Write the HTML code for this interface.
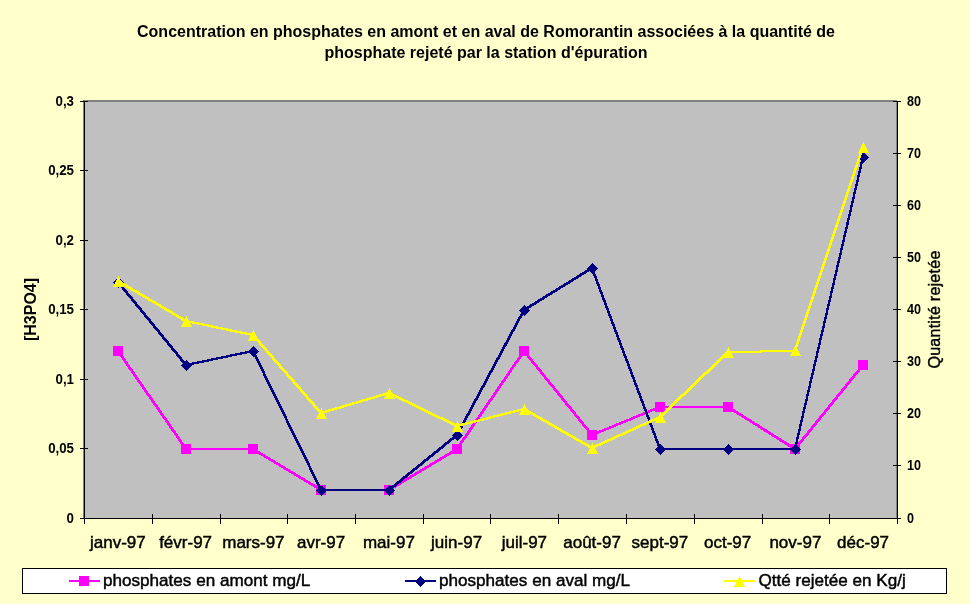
<!DOCTYPE html>
<html lang="fr"><head><meta charset="utf-8"><title>Concentration en phosphates</title>
<style>
html,body{margin:0;padding:0;background:#FFFFCC;}
body{width:970px;height:604px;overflow:hidden;}
svg{display:block;font-family:"Liberation Sans",Arial,sans-serif;fill:#000;}
.t{font-weight:bold;font-size:16px;text-anchor:middle;}
.yl{font-weight:bold;font-size:14.3px;text-anchor:end;}
.yr{font-weight:bold;font-size:14.3px;text-anchor:start;}
.xl{font-size:17px;text-anchor:middle;stroke:#000;stroke-width:0.45px;}
.lg{font-size:17.1px;stroke:#000;stroke-width:0.45px;}
</style></head><body>
<svg width="970" height="604" viewBox="0 0 970 604">
<rect x="0" y="0" width="970" height="604" fill="#FFFFCC"/>
<text class="t" x="486" y="36.5">Concentration en phosphates en amont et en aval de Romorantin associées à la quantité de</text>
<text class="t" x="486" y="57.5">phosphate rejeté par la station d'épuration</text>
<g shape-rendering="crispEdges">
<rect x="84" y="101" width="814" height="418" fill="#C0C0C0"/>
<rect x="83" y="100" width="814" height="2" fill="#808080"/>
<rect x="83" y="100" width="1" height="418" fill="#808080"/>
<rect x="896" y="100" width="1" height="418" fill="#808080"/>
<rect x="84" y="101" width="1" height="418" fill="#000"/>
<rect x="897" y="101" width="1" height="418" fill="#000"/>
<rect x="84" y="518" width="814" height="1" fill="#000"/>
<rect x="80" y="518" width="8" height="1" fill="#000"/>
<rect x="80" y="448" width="8" height="1" fill="#000"/>
<rect x="80" y="379" width="8" height="1" fill="#000"/>
<rect x="80" y="309" width="8" height="1" fill="#000"/>
<rect x="80" y="240" width="8" height="1" fill="#000"/>
<rect x="80" y="170" width="8" height="1" fill="#000"/>
<rect x="80" y="101" width="8" height="1" fill="#000"/>
<rect x="893" y="518" width="8" height="1" fill="#000"/>
<rect x="893" y="465" width="8" height="1" fill="#000"/>
<rect x="893" y="413" width="8" height="1" fill="#000"/>
<rect x="893" y="361" width="8" height="1" fill="#000"/>
<rect x="893" y="309" width="8" height="1" fill="#000"/>
<rect x="893" y="257" width="8" height="1" fill="#000"/>
<rect x="893" y="205" width="8" height="1" fill="#000"/>
<rect x="893" y="153" width="8" height="1" fill="#000"/>
<rect x="893" y="101" width="8" height="1" fill="#000"/>
<rect x="84" y="514" width="1" height="10" fill="#000"/>
<rect x="152" y="514" width="1" height="10" fill="#000"/>
<rect x="220" y="514" width="1" height="10" fill="#000"/>
<rect x="287" y="514" width="1" height="10" fill="#000"/>
<rect x="355" y="514" width="1" height="10" fill="#000"/>
<rect x="423" y="514" width="1" height="10" fill="#000"/>
<rect x="490" y="514" width="1" height="10" fill="#000"/>
<rect x="558" y="514" width="1" height="10" fill="#000"/>
<rect x="626" y="514" width="1" height="10" fill="#000"/>
<rect x="694" y="514" width="1" height="10" fill="#000"/>
<rect x="762" y="514" width="1" height="10" fill="#000"/>
<rect x="829" y="514" width="1" height="10" fill="#000"/>
<rect x="897" y="514" width="1" height="10" fill="#000"/>
<path fill="#FF00FF" d="M117,350 119,350 187,448 187,450 185,450 117,352ZM185,448 254,448 254,450 185,450ZM252,448 254,448 322,489 322,491 320,491 252,450ZM320,489 390,489 390,491 320,491ZM388,489 456,448 458,448 458,450 390,491 388,491ZM456,448 523,350 525,350 525,352 458,450 456,450ZM523,350 525,350 593,434 593,436 591,436 523,352ZM591,434 659,406 661,406 661,408 593,436 591,436ZM659,406 729,406 729,408 659,408ZM727,406 729,406 796,448 796,450 794,450 727,408ZM794,448 862,364 864,364 864,366 796,450 794,450Z"/>
<rect x="113" y="346" width="10" height="10" fill="#FF00FF"/>
<rect x="181" y="444" width="10" height="10" fill="#FF00FF"/>
<rect x="248" y="444" width="10" height="10" fill="#FF00FF"/>
<rect x="316" y="485" width="10" height="10" fill="#FF00FF"/>
<rect x="384" y="485" width="10" height="10" fill="#FF00FF"/>
<rect x="452" y="444" width="10" height="10" fill="#FF00FF"/>
<rect x="519" y="346" width="10" height="10" fill="#FF00FF"/>
<rect x="587" y="430" width="10" height="10" fill="#FF00FF"/>
<rect x="655" y="402" width="10" height="10" fill="#FF00FF"/>
<rect x="723" y="402" width="10" height="10" fill="#FF00FF"/>
<rect x="790" y="444" width="10" height="10" fill="#FF00FF"/>
<rect x="858" y="360" width="10" height="10" fill="#FF00FF"/>
<path fill="#000080" d="M117,281 119,281 187,364 187,366 185,366 117,283ZM185,364 252,350 254,350 254,352 187,366 185,366ZM252,350 254,350 322,489 322,491 320,491 252,352ZM320,489 390,489 390,491 320,491ZM388,489 456,434 458,434 458,436 390,491 388,491ZM456,434 523,309 525,309 525,311 458,436 456,436ZM523,309 591,267 593,267 593,269 525,311 523,311ZM591,267 593,267 661,448 661,450 659,450 591,269ZM659,448 729,448 729,450 659,450ZM727,448 796,448 796,450 727,450ZM794,448 862,156 864,156 864,158 796,450 794,450Z"/>
<polygon points="118.5,276.9 124.1,282.5 118.5,288.1 112.9,282.5" fill="#000080"/>
<polygon points="186.5,359.9 192.1,365.5 186.5,371.1 180.9,365.5" fill="#000080"/>
<polygon points="253.5,345.9 259.1,351.5 253.5,357.1 247.9,351.5" fill="#000080"/>
<polygon points="321.5,484.9 327.1,490.5 321.5,496.1 315.9,490.5" fill="#000080"/>
<polygon points="389.5,484.9 395.1,490.5 389.5,496.1 383.9,490.5" fill="#000080"/>
<polygon points="457.5,429.9 463.1,435.5 457.5,441.1 451.9,435.5" fill="#000080"/>
<polygon points="524.5,304.9 530.1,310.5 524.5,316.1 518.9,310.5" fill="#000080"/>
<polygon points="592.5,262.9 598.1,268.5 592.5,274.1 586.9,268.5" fill="#000080"/>
<polygon points="660.5,443.9 666.1,449.5 660.5,455.1 654.9,449.5" fill="#000080"/>
<polygon points="728.5,443.9 734.1,449.5 728.5,455.1 722.9,449.5" fill="#000080"/>
<polygon points="795.5,443.9 801.1,449.5 795.5,455.1 789.9,449.5" fill="#000080"/>
<polygon points="863.5,151.9 869.1,157.5 863.5,163.1 857.9,157.5" fill="#000080"/>
<path fill="#FFFF00" d="M117,280 119,280 187,320 187,322 185,322 117,282ZM185,320 187,320 254,334 254,336 252,336 185,322ZM252,334 254,334 322,412 322,414 320,414 252,336ZM320,412 388,392 390,392 390,394 322,414 320,414ZM388,392 390,392 458,425 458,427 456,427 388,394ZM456,425 523,408 525,408 525,410 458,427 456,427ZM523,408 525,408 593,447 593,449 591,449 523,410ZM591,447 659,416 661,416 661,418 593,449 591,449ZM659,416 727,351 729,351 729,353 661,418 659,418ZM727,351 794,350 796,350 796,352 729,353 727,353ZM794,350 862,146 864,146 864,148 796,352 794,352Z"/>
<polygon points="118.5,276.0 124.0,287.0 113.0,287.0" fill="#FFFF00"/>
<polygon points="186.5,316.0 192.0,327.0 181.0,327.0" fill="#FFFF00"/>
<polygon points="253.5,330.0 259.0,341.0 248.0,341.0" fill="#FFFF00"/>
<polygon points="321.5,408.0 327.0,419.0 316.0,419.0" fill="#FFFF00"/>
<polygon points="389.5,388.0 395.0,399.0 384.0,399.0" fill="#FFFF00"/>
<polygon points="457.5,421.0 463.0,432.0 452.0,432.0" fill="#FFFF00"/>
<polygon points="524.5,404.0 530.0,415.0 519.0,415.0" fill="#FFFF00"/>
<polygon points="592.5,443.0 598.0,454.0 587.0,454.0" fill="#FFFF00"/>
<polygon points="660.5,412.0 666.0,423.0 655.0,423.0" fill="#FFFF00"/>
<polygon points="728.5,347.0 734.0,358.0 723.0,358.0" fill="#FFFF00"/>
<polygon points="795.5,345.0 801.0,356.0 790.0,356.0" fill="#FFFF00"/>
<polygon points="863.5,142.0 869.0,153.0 858.0,153.0" fill="#FFFF00"/>
<rect x="22.5" y="568.5" width="924" height="25" fill="#FFF" stroke="#000" stroke-width="1"/>
<rect x="69" y="580" width="31" height="2" fill="#FF00FF"/>
<rect x="79" y="576" width="10" height="10" fill="#FF00FF"/>
<rect x="405" y="580" width="31" height="2" fill="#000080"/>
<polygon points="420.5,575.9 426.1,581.5 420.5,587.1 414.9,581.5" fill="#000080"/>
<rect x="724" y="580" width="31" height="2" fill="#FFFF00"/>
<polygon points="739.5,576 745,587 734,587" fill="#FFFF00"/>
</g>
<text class="lg" x="103" y="586">phosphates en amont mg/L</text>
<text class="lg" x="439" y="586">phosphates en aval mg/L</text>
<text class="lg" x="758.5" y="586">Qtté rejetée en Kg/j</text>
<text class="yl" transform="translate(74,523.0) scale(0.93,1)">0</text>
<text class="yl" transform="translate(74,453.0) scale(0.93,1)">0,05</text>
<text class="yl" transform="translate(74,384.0) scale(0.93,1)">0,1</text>
<text class="yl" transform="translate(74,314.0) scale(0.93,1)">0,15</text>
<text class="yl" transform="translate(74,245.0) scale(0.93,1)">0,2</text>
<text class="yl" transform="translate(74,175.0) scale(0.93,1)">0,25</text>
<text class="yl" transform="translate(74,106.0) scale(0.93,1)">0,3</text>
<text class="yr" transform="translate(907,523.0) scale(0.88,1)">0</text>
<text class="yr" transform="translate(907,470.0) scale(0.88,1)">10</text>
<text class="yr" transform="translate(907,418.0) scale(0.88,1)">20</text>
<text class="yr" transform="translate(907,366.0) scale(0.88,1)">30</text>
<text class="yr" transform="translate(907,314.0) scale(0.88,1)">40</text>
<text class="yr" transform="translate(907,262.0) scale(0.88,1)">50</text>
<text class="yr" transform="translate(907,210.0) scale(0.88,1)">60</text>
<text class="yr" transform="translate(907,158.0) scale(0.88,1)">70</text>
<text class="yr" transform="translate(907,106.0) scale(0.88,1)">80</text>
<text class="xl" x="117.9" y="548">janv-97</text>
<text class="xl" x="185.6" y="548">févr-97</text>
<text class="xl" x="253.4" y="548">mars-97</text>
<text class="xl" x="321.1" y="548">avr-97</text>
<text class="xl" x="388.9" y="548">mai-97</text>
<text class="xl" x="456.6" y="548">juin-97</text>
<text class="xl" x="524.4" y="548">juil-97</text>
<text class="xl" x="592.1" y="548">août-97</text>
<text class="xl" x="659.9" y="548">sept-97</text>
<text class="xl" x="727.6" y="548">oct-97</text>
<text class="xl" x="795.4" y="548">nov-97</text>
<text class="xl" x="863.1" y="548">déc-97</text>
<text transform="translate(36,309.5) rotate(-90)" style="font-weight:bold;font-size:16px;text-anchor:middle">[H3PO4]</text>
<text transform="translate(940,309.5) rotate(-90)" style="font-size:16px;letter-spacing:0.27px;text-anchor:middle;stroke:#000;stroke-width:0.4px">Quantité rejetée</text>
</svg>
</body></html>
